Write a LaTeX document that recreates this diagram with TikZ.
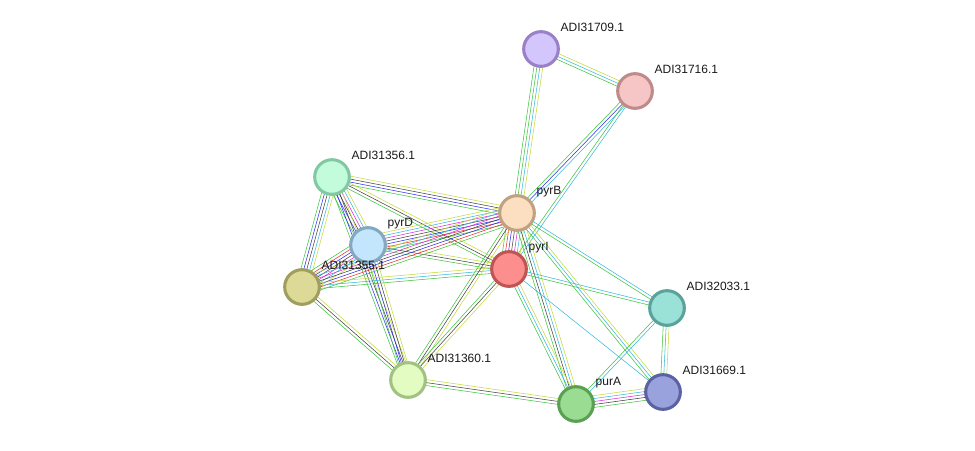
\documentclass[tikz,border=0pt]{standalone}
\usepackage{fontspec}
\setmainfont{Liberation Sans}
\usetikzlibrary{calc,backgrounds}

% evidence colours
\definecolor{evg}{HTML}{3CC43C}
\definecolor{evr}{HTML}{EE2A2A}
\definecolor{evb}{HTML}{2A2AF0}
\definecolor{evk}{HTML}{404040}
\definecolor{evm}{HTML}{DC28DC}
\definecolor{evc}{HTML}{34B8DC}
\definecolor{evy}{HTML}{C4D83A}

% protein colours (fill / rim)
\definecolor{f31709}{HTML}{D2C6FC}\definecolor{d31709}{HTML}{9A80C6}
\definecolor{f31716}{HTML}{F6C6C6}\definecolor{d31716}{HTML}{BE8A8A}
\definecolor{f31356}{HTML}{C2FCDA}\definecolor{d31356}{HTML}{82C8A2}
\definecolor{fpyrB}{HTML}{FCDEC0}\definecolor{dpyrB}{HTML}{C0A282}
\definecolor{fpyrD}{HTML}{C4E6FC}\definecolor{dpyrD}{HTML}{82A8C2}
\definecolor{fpyrI}{HTML}{FC8E8E}\definecolor{dpyrI}{HTML}{C05454}
\definecolor{f31355}{HTML}{DCDA96}\definecolor{d31355}{HTML}{A09E5E}
\definecolor{f32033}{HTML}{9AE2D8}\definecolor{d32033}{HTML}{5AA29A}
\definecolor{f31360}{HTML}{E2FCC2}\definecolor{d31360}{HTML}{A2C282}
\definecolor{fpurA}{HTML}{9ADC92}\definecolor{dpurA}{HTML}{5AA052}
\definecolor{f31669}{HTML}{9AA2DE}\definecolor{d31669}{HTML}{5A62A2}

% one bundle of parallel lines between two proteins
\newcommand{\evlink}[3]{%
  \def\nlines{0}%
  \foreach \c in {#3}{\xdef\nlines{\the\numexpr\nlines+1\relax}}%
  \foreach \c [count=\i] in {#3}{%
    \pgfmathsetmacro\off{(\i-(\nlines+1)/2)*2.2}%
    \draw[ev\c] ($(#1.center)!\off pt!90:(#2.center)$) --
                ($(#2.center)!\off pt!-90:(#1.center)$);
  }}

\begin{document}
\begin{tikzpicture}[x=0.75pt,y=-0.75pt,line width=1.25pt,
                    prot/.style={circle,draw=d#1,fill=f#1,line width=2.3pt,
                                 minimum size=26pt,inner sep=0pt},
                    every label/.style={anchor=west,xshift=0.8pt,yshift=6pt,
                                        font=\fontsize{9}{10}\selectfont,text=black!90}]
  \useasboundingbox (0,0) rectangle (975,450);

  \node[prot=31709,label=45:ADI31709.1] (n31709) at (541,49) {};
  \node[prot=31716,label=45:ADI31716.1] (n31716) at (635,91) {};
  \node[prot=31356,label=45:ADI31356.1] (n31356) at (332,177) {};
  \node[prot=pyrB,label=45:pyrB] (pyrB) at (517,213) {};
  \node[prot=pyrD,label=45:pyrD] (pyrD) at (368,245) {};
  \node[prot=pyrI,label=45:pyrI] (pyrI) at (509,269) {};
  \node[prot=31355,label=45:ADI31355.1] (n31355) at (302,287) {};
  \node[prot=32033,label=45:ADI32033.1] (n32033) at (667,308) {};
  \node[prot=31360,label=45:ADI31360.1] (n31360) at (408,380) {};
  \node[prot=purA,label=45:purA] (purA) at (576,404) {};
  \node[prot=31669,label=45:ADI31669.1] (n31669) at (663,392) {};

  \begin{scope}[on background layer]
    \evlink{n31709}{n31716}{g,c,y}
    \evlink{n31709}{pyrB}{g,g,c,y}
    \evlink{n31716}{pyrB}{g,b,c}
    \evlink{n31716}{pyrI}{g,c}
    \evlink{n31356}{pyrB}{g,b,k,y}
    \evlink{n31356}{pyrI}{g,k,y}
    \evlink{n31356}{pyrD}{g,b,k,m,c,y}
    \evlink{n31356}{n31355}{g,b,k,c,y}
    \evlink{n31356}{n31360}{g,b,k,y}
    \evlink{pyrD}{pyrB}{g,r,b,k,m,c,y}
    \evlink{pyrD}{pyrI}{g,k,y}
    \evlink{pyrD}{n31355}{g,r,b,k,m,c,y}
    \evlink{pyrD}{n31360}{g,b,k,y}
    \evlink{n31355}{pyrB}{g,r,b,k,m,c,y}
    \evlink{n31355}{pyrI}{g,c,y}
    \evlink{n31355}{n31360}{g,k,y}
    \evlink{pyrB}{pyrI}{g,r,b,k,m,c,y}
    \evlink{pyrB}{n31360}{g,k,y}
    \evlink{pyrI}{n31360}{g,k,y}
    \evlink{pyrB}{purA}{g,k,c,y}
    \evlink{pyrI}{purA}{g,c,y}
    \evlink{pyrB}{n32033}{g,c}
    \evlink{pyrI}{n32033}{g,c}
    \evlink{pyrB}{n31669}{g,c,y}
    \evlink{pyrI}{n31669}{c}
    \evlink{n32033}{n31669}{g,c,y}
    \evlink{n32033}{purA}{g,c}
    \evlink{purA}{n31669}{g,k,m,c,y}
    \evlink{n31360}{purA}{g,k,y}
  \end{scope}
\end{tikzpicture}
\end{document}
